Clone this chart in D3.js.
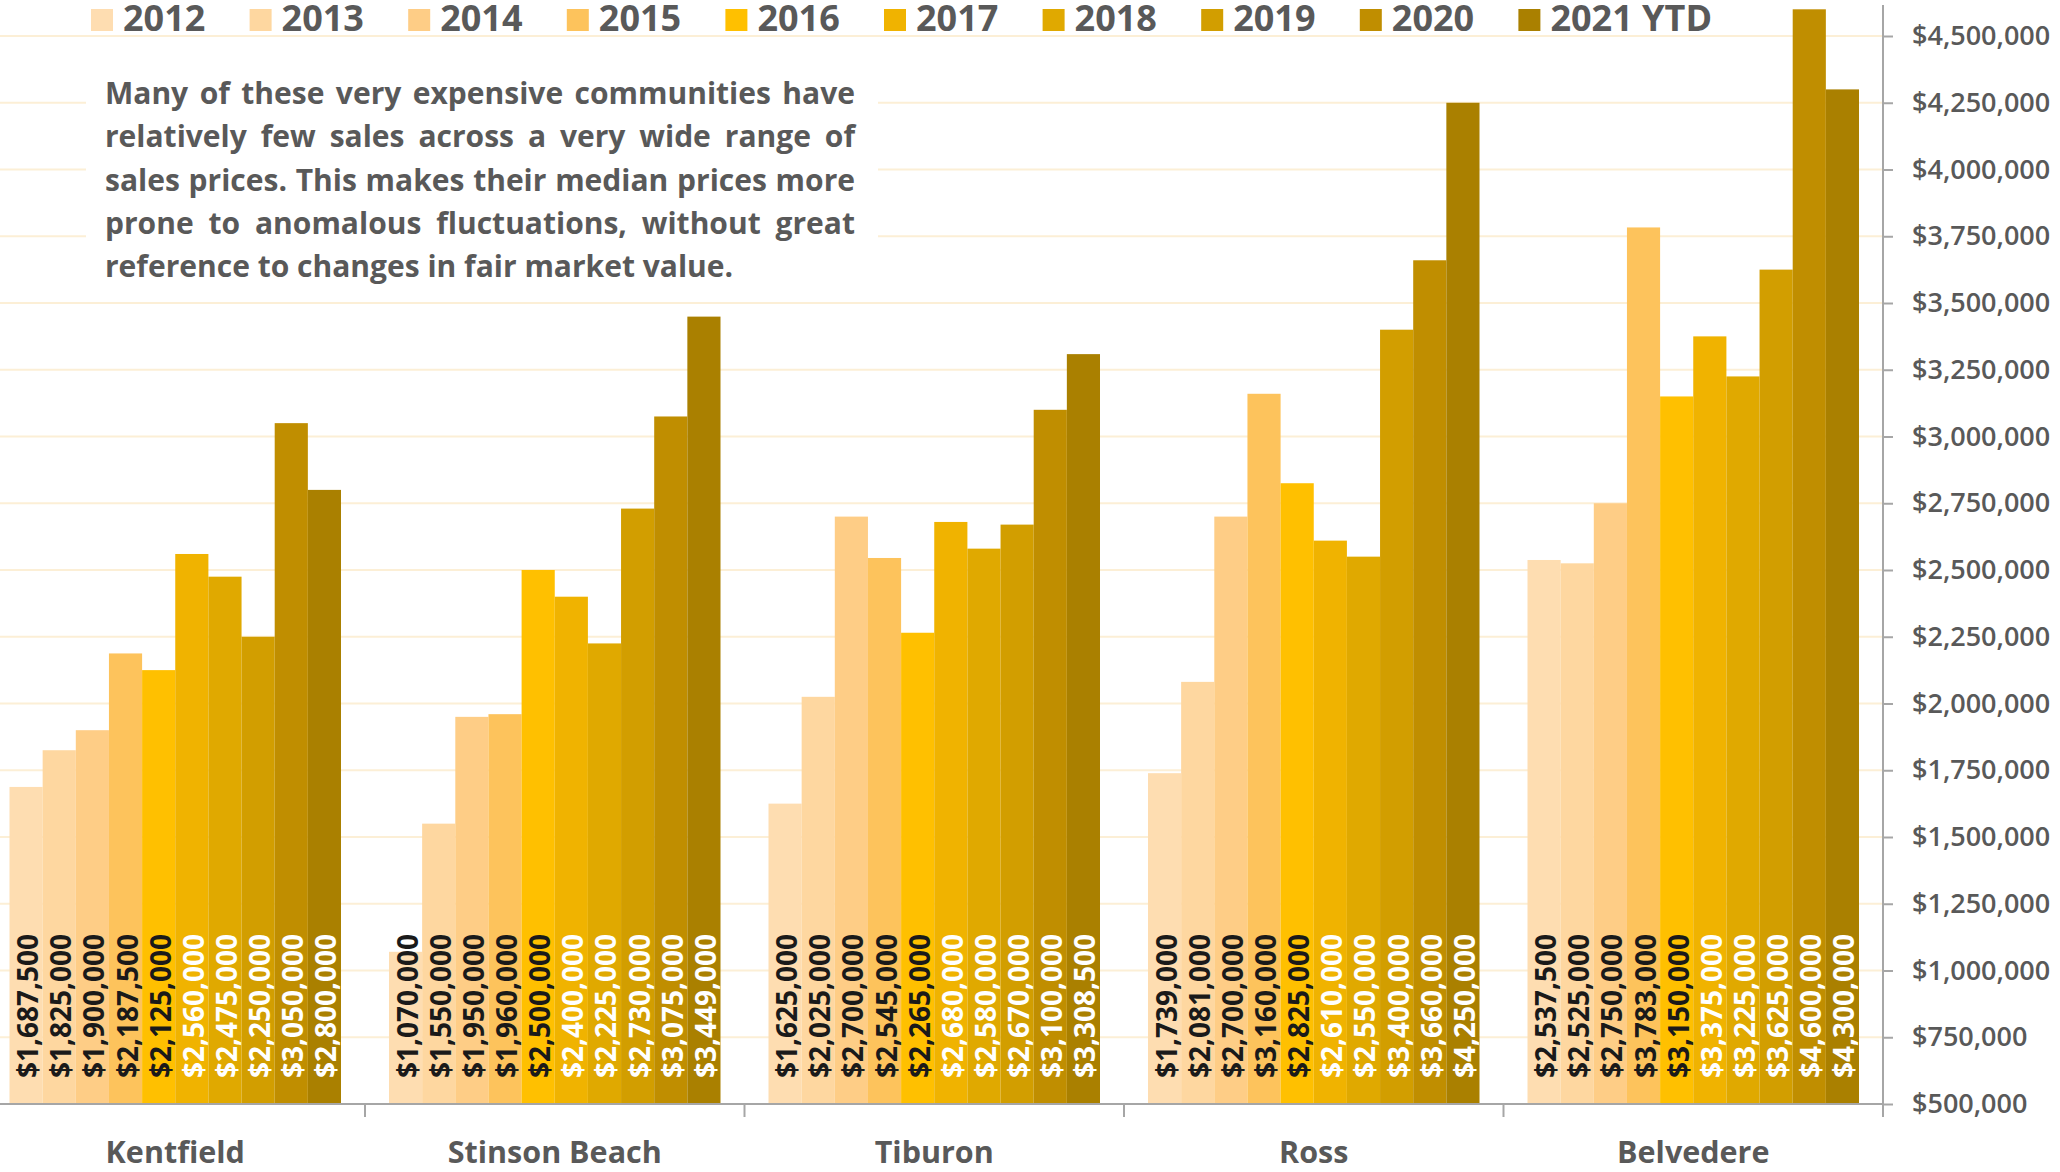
<!DOCTYPE html>
<html>
<head>
<meta charset="utf-8">
<script src="https://cdn.jsdelivr.net/npm/d3@7"></script>
<style>
  html, body { margin: 0; padding: 0; background: #ffffff; }
  svg { display: block; font-family: "Open Sans", "Noto Sans", sans-serif; }
</style>
</head>
<body>
<svg id="chart" width="2060" height="1172"></svg>
<script>
// Median sale prices by community and year
const communities = ["Kentfield", "Stinson Beach", "Tiburon", "Ross", "Belvedere"];
const years = ["2012", "2013", "2014", "2015", "2016", "2017", "2018", "2019", "2020", "2021 YTD"];

const kentfield    = [1687500, 1825000, 1900000, 2187500, 2125000, 2560000, 2475000, 2250000, 3050000, 2800000];
const stinsonBeach = [1070000, 1550000, 1950000, 1960000, 2500000, 2400000, 2225000, 2730000, 3075000, 3449000];
const tiburon      = [1625000, 2025000, 2700000, 2545000, 2265000, 2680000, 2580000, 2670000, 3100000, 3308500];
const ross         = [1739000, 2081000, 2700000, 3160000, 2825000, 2610000, 2550000, 3400000, 3660000, 4250000];
const belvedere    = [2537500, 2525000, 2750000, 3783000, 3150000, 3375000, 3225000, 3625000, 4600000, 4300000];

const yTicks = [500000, 750000, 1000000, 1250000, 1500000, 1750000, 2000000, 2250000,
                2500000, 2750000, 3000000, 3250000, 3500000, 3750000, 4000000, 4250000, 4500000];

const yearColors = ["#FEDDB1", "#FED7A0", "#FECD86", "#FDC35C", "#FFC000",
                    "#F0B300", "#E0A900", "#D29E00", "#C08E00", "#AA8000"];
const labelColors = ["#1a1a1a", "#1a1a1a", "#1a1a1a", "#1a1a1a", "#1a1a1a",
                     "#ffffff", "#ffffff", "#ffffff", "#ffffff", "#ffffff"];

const note = [
  "Many of these very expensive communities have",
  "relatively few sales across a very wide range of",
  "sales prices. This makes their median prices more",
  "prone to anomalous fluctuations, without great",
  "reference to changes in fair market value."
];

const seriesByCommunity = [kentfield, stinsonBeach, tiburon, ross, belvedere];
const rows = communities.map((c, i) => ({
  community: c,
  values: years.map((y, j) => ({ year: y, idx: j, value: seriesByCommunity[i][j] }))
}));

const svg = d3.select("#chart");
const textGrey = "#595959";
const axisGrey = "#A6A6A6";

const plotLeft = -14.5, plotRight = 1883, baseY = 1104, topY = 36;

const x0 = d3.scaleBand().domain(communities).range([plotLeft, plotRight]).padding(0);
const inset = 24;
const x1 = d3.scaleBand().domain(years).range([inset, x0.bandwidth() - inset]).padding(0);
const y = d3.scaleLinear().domain([500000, 4500000]).range([baseY, topY]);

// Horizontal gridlines
svg.append("g")
  .selectAll("line")
  .data(yTicks.slice(1))
  .join("line")
  .attr("x1", 0).attr("x2", plotRight)
  .attr("y1", d => y(d)).attr("y2", d => y(d))
  .attr("stroke", "#FCEFD6").attr("stroke-width", 2);

// Bars
const groups = svg.append("g")
  .selectAll("g")
  .data(rows)
  .join("g")
  .attr("transform", d => `translate(${x0(d.community)},0)`);

groups.selectAll("rect")
  .data(d => d.values)
  .join("rect")
  .attr("x", d => x1(d.year))
  .attr("width", x1.bandwidth())
  .attr("y", d => y(d.value))
  .attr("height", d => y(500000) - y(d.value))
  .attr("fill", d => yearColors[d.idx]);

// Value labels, rotated, anchored near the base of each bar
const fmt = d3.format("$,");
groups.selectAll("text")
  .data(d => d.values)
  .join("text")
  .attr("transform", d => `translate(${x1(d.year) + x1.bandwidth() / 2 + 1},${baseY - 26}) rotate(-90)`)
  .attr("text-anchor", "start")
  .attr("dominant-baseline", "central")
  .attr("font-size", 28)
  .attr("font-weight", 700)
  .attr("fill", d => labelColors[d.idx])
  .text(d => fmt(d.value));

// X axis line and category separators
svg.append("line")
  .attr("x1", 0).attr("x2", plotRight)
  .attr("y1", baseY).attr("y2", baseY)
  .attr("stroke", axisGrey).attr("stroke-width", 2);

const xAxis = d3.axisBottom(x0).tickSize(0).tickPadding(0);
const xg = svg.append("g").attr("transform", `translate(0,${baseY})`).call(xAxis);
xg.select(".domain").remove();
xg.selectAll("text")
  .attr("y", 59)
  .attr("dy", 0)
  .attr("font-family", "'Open Sans', sans-serif")
  .attr("font-size", 30.5)
  .attr("font-weight", 700)
  .attr("fill", textGrey);

svg.append("g")
  .selectAll("line")
  .data(communities.slice(1))
  .join("line")
  .attr("x1", d => x0(d)).attr("x2", d => x0(d))
  .attr("y1", baseY).attr("y2", baseY + 13)
  .attr("stroke", axisGrey).attr("stroke-width", 2);

// Right-hand value axis
const yAxis = d3.axisRight(y)
  .tickValues(yTicks)
  .tickSize(10)
  .tickPadding(19)
  .tickFormat(d3.format("$,"));
const yg = svg.append("g").attr("transform", `translate(${plotRight},0)`).call(yAxis);
yg.select(".domain").remove();
yg.selectAll(".tick line").attr("stroke", axisGrey).attr("stroke-width", 2);
yg.selectAll(".tick text")
  .attr("font-family", "'Open Sans', sans-serif")
  .attr("font-size", 27)
  .attr("font-weight", 600)
  .attr("fill", textGrey);
svg.append("line")
  .attr("x1", plotRight).attr("x2", plotRight)
  .attr("y1", 5).attr("y2", baseY + 13)
  .attr("stroke", axisGrey).attr("stroke-width", 2);
svg.append("line")
  .attr("x1", plotRight - 10).attr("x2", plotRight)
  .attr("y1", baseY).attr("y2", baseY)
  .attr("stroke", axisGrey).attr("stroke-width", 2);

// Legend
const legend = svg.append("g")
  .selectAll("g")
  .data(years)
  .join("g")
  .attr("transform", (d, i) => `translate(${91 + i * 158.6},0)`);
legend.append("rect")
  .attr("x", 0).attr("y", 9)
  .attr("width", 22).attr("height", 22)
  .attr("fill", (d, i) => yearColors[i]);
legend.append("text")
  .attr("x", 32).attr("y", 31)
  .attr("font-size", 36)
  .attr("font-weight", 700)
  .attr("fill", textGrey)
  .text(d => d);

// Explanatory note, fully justified except its last line
svg.append("rect")
  .attr("x", 86).attr("y", 62)
  .attr("width", 792).attr("height", 232)
  .attr("fill", "#ffffff");
const noteLeft = 105, noteWidth = 750;
const noteG = svg.append("g");
note.forEach((line, i) => {
  const t = noteG.append("text")
    .attr("x", noteLeft)
    .attr("y", 104 + i * 43.3)
    .attr("font-size", 30)
    .attr("font-weight", 700)
    .attr("fill", textGrey)
    .text(line);
  if (i < note.length - 1) {
    const natural = t.node().getComputedTextLength();
    const gaps = line.split(" ").length - 1;
    if (gaps > 0) t.style("word-spacing", ((noteWidth - natural) / gaps) + "px");
  }
});
</script>
</body>
</html>
